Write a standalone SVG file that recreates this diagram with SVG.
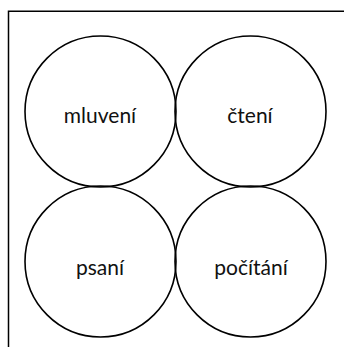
<svg xmlns="http://www.w3.org/2000/svg" width="344" height="347" viewBox="0 0 344 347">
<style>
.c{fill:none;stroke:#000;stroke-width:1.6}
.t{font-family:Lato,"Liberation Sans",sans-serif;font-size:21px;fill:#111;text-anchor:middle}
</style>
<rect width="344" height="347" fill="#fff"/>
<path d="M8.5,347 V11.2 H344" fill="none" stroke="#000" stroke-width="1.5"/>
<g id="mluveni"><circle class="c" cx="100.5" cy="111.5" r="75.5"/><text class="t" x="100" y="123">mluvení</text></g>
<g id="cteni"><circle class="c" cx="250.5" cy="111.5" r="75.5"/><text class="t" x="250" y="123">čtení</text></g>
<g id="psani"><circle class="c" cx="100.5" cy="261.5" r="75.5"/><text class="t" x="100" y="275">psaní</text></g>
<g id="pocitani"><circle class="c" cx="250.5" cy="261.5" r="75.5"/><text class="t" x="251" y="275">počítání</text></g>
<g id="connectors"/>
</svg>
